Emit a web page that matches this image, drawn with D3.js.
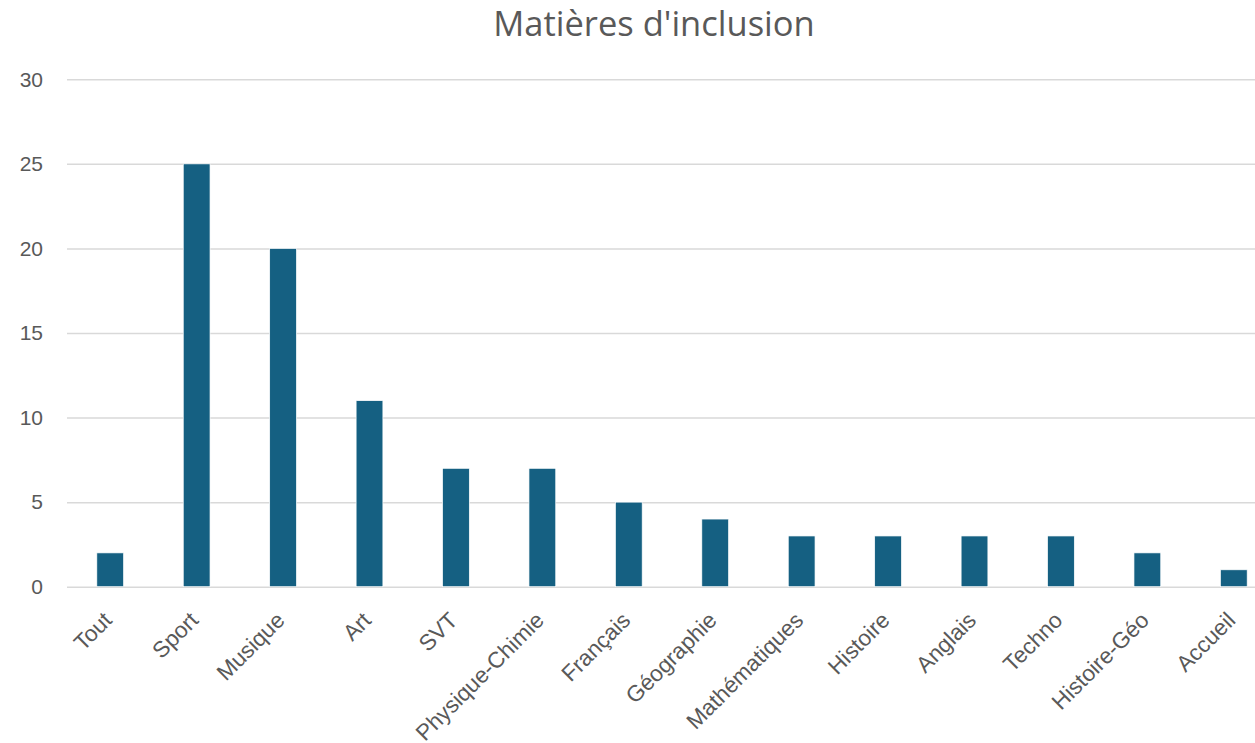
<!doctype html>
<html>
<head>
<meta charset="utf-8">
<script src="https://d3js.org/d3.v7.min.js"></script>
<style>
  body { margin: 0; background: #fff; }
  .grid line { stroke: #d9d9d9; stroke-width: 1.5; }
  .grid path { display: none; }
  .axis text { fill: #595959; font-family: "Liberation Sans", Arial, sans-serif; }
</style>
</head>
<body>
<svg width="1255" height="743"></svg>
<script>
var categories = ["Tout", "Sport", "Musique", "Art", "SVT", "Physique-Chimie", "Français",
  "Géographie", "Mathématiques", "Histoire", "Anglais", "Techno", "Histoire-Géo", "Accueil"];
var values = [2, 25, 20, 11, 7, 7, 5, 4, 3, 3, 3, 3, 2, 1];
var yTicks = [0, 5, 10, 15, 20, 25, 30];

var svg = d3.select("svg");
var plotLeft = 67, plotRight = 1277, plotTop = 79.3, plotBottom = 586.7;

var x = d3.scaleBand().domain(categories).range([plotLeft, plotRight]).paddingInner(0.69).paddingOuter(0.345);
var y = d3.scaleLinear().domain([0, 30]).range([plotBottom, plotTop]);

svg.append("text")
  .attr("x", 654)
  .attr("y", 36)
  .attr("text-anchor", "middle")
  .attr("fill", "#595959")
  .style("font-family", "'Open Sans', 'Liberation Sans', sans-serif")
  .style("font-size", "34.5px")
  .text("Matières d'inclusion");

// horizontal gridlines
svg.append("g")
  .attr("class", "grid")
  .attr("transform", "translate(" + plotLeft + ",0)")
  .call(d3.axisLeft(y).tickValues(yTicks).tickSize(-(plotRight - plotLeft)).tickFormat(""));

// y labels
var yAxis = svg.append("g")
  .attr("class", "axis")
  .attr("transform", "translate(" + plotLeft + ",0)")
  .call(d3.axisLeft(y).tickValues(yTicks).tickSize(0).tickPadding(24));
yAxis.select(".domain").remove();
yAxis.selectAll("text").style("font-size", "21px");

svg.append("g")
  .selectAll("rect")
  .data(values)
  .enter().append("rect")
  .attr("x", function(d, i) { return x(categories[i]); })
  .attr("y", function(d) { return y(d); })
  .attr("width", x.bandwidth())
  .attr("height", function(d) { return y(0) - y(d); })
  .attr("fill", "#156082")
  .attr("stroke", "#ffffff")
  .attr("stroke-width", 0.7);

// x labels
var xAxis = svg.append("g")
  .attr("class", "axis")
  .attr("transform", "translate(0," + plotBottom + ")")
  .call(d3.axisBottom(x).tickSize(0).tickPadding(0));
xAxis.select(".domain").remove();
xAxis.selectAll("text")
  .style("font-size", "22.5px")
  .style("text-anchor", "end")
  .attr("dy", null)
  .attr("transform", "translate(3,35) rotate(-45)");
</script>
</body>
</html>
